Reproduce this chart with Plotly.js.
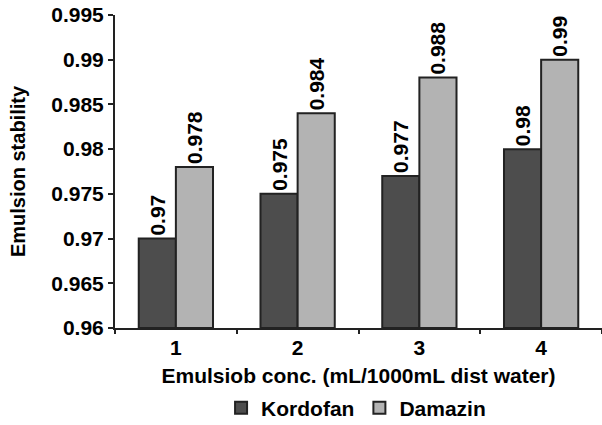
<!DOCTYPE html>
<html>
<head>
<meta charset="utf-8">
<script src="https://cdn.plot.ly/plotly-3.0.1.min.js"></script>
<style>html,body{margin:0;padding:0;background:#fff;}#chart{width:602px;height:425px;}</style>
</head>
<body>
<div id="chart"></div>
<script>
var categories = ["1", "2", "3", "4"];
var kordofan = [0.970, 0.975, 0.977, 0.980];
var damazin = [0.978, 0.984, 0.988, 0.990];
var kordofanLabels = ["0.97", "0.975", "0.977", "0.98"];
var damazinLabels = ["0.978", "0.984", "0.988", "0.99"];
var yTicks = [0.96, 0.965, 0.97, 0.975, 0.98, 0.985, 0.99, 0.995];
var yTickText = ["0.96", "0.965", "0.97", "0.975", "0.98", "0.985", "0.99", "0.995"];
var BASE = 0.96;

var FONT = "Liberation Sans, Arial, sans-serif";
function f(size){ return {family: FONT, size: size, color: "#000", weight: "bold"}; }

function heights(arr){ return arr.map(function(v){ return v - BASE; }); }

var traces = [
  {type: "bar", name: "Kordofan", x: categories, y: heights(kordofan), base: BASE,
   text: kordofanLabels, textposition: "outside", textangle: -90,
   textfont: f(21), constraintext: "none", cliponaxis: false,
   marker: {color: "#4d4d4d", line: {color: "#222", width: 2}}},
  {type: "bar", name: "Damazin", x: categories, y: heights(damazin), base: BASE,
   text: damazinLabels, textposition: "outside", textangle: -90,
   textfont: f(21), constraintext: "none", cliponaxis: false,
   marker: {color: "#b3b3b3", line: {color: "#222", width: 2}}}
];

var layout = {
  width: 602, height: 425,
  margin: {l: 115, r: 0, t: 15, b: 97},
  paper_bgcolor: "#fff", plot_bgcolor: "#fff",
  barmode: "group", bargap: 0.39, bargroupgap: 0,
  font: f(21),
  showlegend: true,
  legend: {orientation: "h", x: 0.495, xanchor: "center",
           yref: "container", y: 0.04, yanchor: "middle",
           font: f(21), traceorder: "normal"},
  xaxis: {
    type: "category", automargin: false,
    showline: true, linecolor: "#222", linewidth: 2,
    ticks: "outside", tickson: "boundaries", ticklen: 4, tickwidth: 2, tickcolor: "#222",
    showgrid: false, zeroline: false,
    tickfont: f(21),
    title: {text: "Emulsiob conc. (mL/1000mL dist water)", standoff: 14, font: f(21)}
  },
  yaxis: {
    range: [0.96, 0.995], automargin: false,
    tickvals: yTicks,
    ticktext: yTickText,
    showline: true, linecolor: "#222", linewidth: 2,
    ticks: "outside", ticklen: 5, tickwidth: 2, tickcolor: "#222",
    showgrid: false, zeroline: false,
    tickfont: f(21),
    title: {text: "Emulsion stability", standoff: 20, font: f(20)}
  }
};

Plotly.newPlot("chart", traces, layout, {displayModeBar: false, staticPlot: true});
</script>
</body>
</html>
